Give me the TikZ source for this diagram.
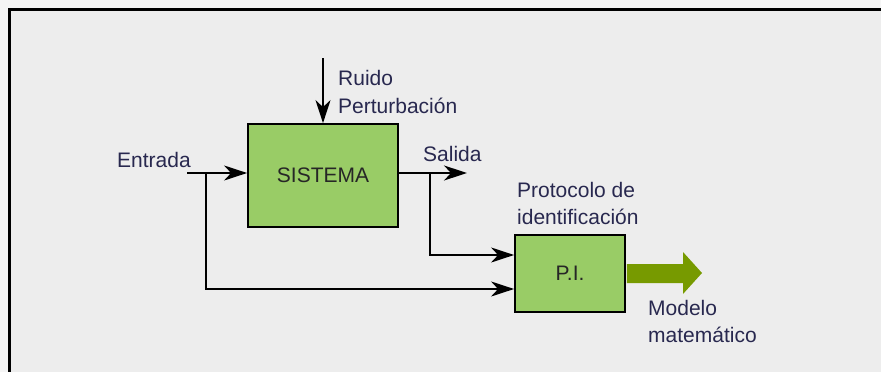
\documentclass[tikz,border=0pt]{standalone}
\usepackage{fontspec}
\setmainfont{Liberation Sans}
\usetikzlibrary{arrows.meta}
\definecolor{bgout}{HTML}{F5F5F5}
\definecolor{bgin}{HTML}{EDEDED}
\definecolor{boxgreen}{HTML}{99CC66}
\definecolor{olive}{HTML}{779A00}
\definecolor{txt}{HTML}{28284F}
\tikzset{
  lbl/.style={font=\fontsize{21}{26}\selectfont, text=txt, inner sep=0pt, anchor=base west},
  blk/.style={draw=black, line width=1.8pt, fill=boxgreen, font=\fontsize{21}{26}\selectfont, text=black!85},
  conn/.style={line width=1.8pt, draw=black},
  arr/.style={conn, -{Stealth[length=23pt,width=15pt,inset=7pt]}},
}
\begin{document}
\begin{tikzpicture}[x=1pt,y=-1pt]
\useasboundingbox (0,0) rectangle (881,372);
\fill[bgout] (0,0) rectangle (881,372);
\fill[bgin] (9.5,9.5) rectangle (881,372);
\draw[line width=3pt] (9.8,372) -- (9.8,9.8) -- (881,9.8);

% blocks
\node[blk, minimum width=150pt, minimum height=103pt] (sis) at (323,175.5) {SISTEMA};
\node[blk, minimum width=110pt, minimum height=77pt] (pi) at (570,273.5) {P.I.};

% coordinates
\coordinate (rtop) at (323,58);
\coordinate (e0) at (187,173);
\coordinate (b1) at (206,173);
\coordinate (s0) at (430,173);
\coordinate (s1) at (467,173);
\coordinate (ya) at (0,255);
\coordinate (yb) at (0,289);

% connectors
\draw[arr] (rtop) -- (sis.north);
\draw[arr] (e0) -- (e0 -| sis.west);
\draw[arr] (s0 -| sis.east) -- (s1);
\draw[arr] (s0) |- (pi.west |- ya);
\draw[arr] (b1) |- (pi.west |- yb);

% big output arrow
\fill[olive] ([xshift=1pt]pi.east |- 0,264) -- (683,264) -- (683,252) -- (702,273) -- (683,294) -- (683,283) -- ([xshift=1pt]pi.east |- 0,283) -- cycle;

% labels
\node[lbl] (ruido) at (338,85) {Ruido};
\node[lbl] (pert) at (338,113) {Perturbación};
\node[lbl] (ent) at (117,167) {Entrada};
\node[lbl] (sal) at (423,161) {Salida};
\node[lbl] (prot) at (517,197) {Protocolo de};
\node[lbl] (ident) at (517,224) {identificación};
\node[lbl] (mod) at (648,315) {Modelo};
\node[lbl] (mat) at (648,342) {matemático};
\end{tikzpicture}
\end{document}
